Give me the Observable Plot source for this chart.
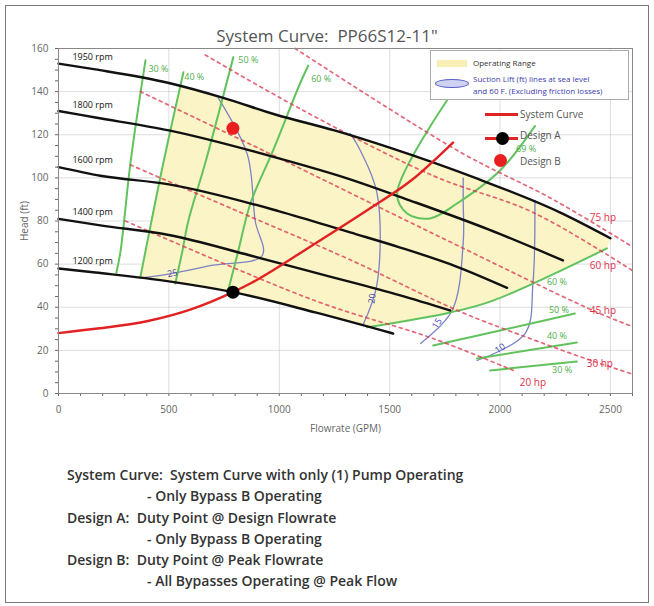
<!DOCTYPE html>
<html><head><meta charset="utf-8">
<script src="https://cdn.jsdelivr.net/npm/d3@7"></script>
<script src="https://cdn.jsdelivr.net/npm/@observablehq/plot@0.6"></script>
<style>
body{margin:0;background:#fff;font-family:"Open Sans",sans-serif;}
#wrap{position:relative;width:654px;height:606px;overflow:hidden;}
#frame{position:absolute;left:5px;top:5px;width:642px;height:596px;border:1px solid #777;pointer-events:none;}
#chart{position:absolute;left:0;top:0;}
#title{position:absolute;left:0;width:654px;top:24px;text-align:center;font-size:17px;color:#555;white-space:pre;}
.lg{position:absolute;font-size:8px;white-space:nowrap;line-height:10px;}
#lbox{position:absolute;left:430px;top:50px;width:197px;height:48px;border:1px solid #aaa;background:#fff;}
.li{position:absolute;font-size:10px;color:#555;white-space:nowrap;line-height:11px;}
#caption{position:absolute;left:67px;top:464px;font-size:14px;font-weight:600;color:#333;line-height:21.3px;}
#caption div{white-space:pre;}
</style></head><body>
<div id="wrap">
<div id="chart"></div>
<div id="title"></div>
<div id="lbox"></div>
<div style="position:absolute;left:437px;top:60px;width:30px;height:7px;background:#f8efb4;"></div>
<div class="lg" style="left:473px;top:58px;color:#333;">Operating Range</div>
<div style="position:absolute;left:435px;top:79px;width:32px;height:7px;border:1px solid #5560c0;border-radius:50%;background:#cfd2f3;"></div>
<div class="lg" style="left:473px;top:74px;color:#3b3bb0;">Suction Lift (ft) lines at sea level</div>
<div class="lg" style="left:473px;top:86px;color:#3b3bb0;">and 60 F. (Excluding friction losses)</div>
<div style="position:absolute;left:485px;top:113px;width:33px;height:3px;background:#e02424;"></div>
<div class="li" style="left:520px;top:109px;">System Curve</div>
<div style="position:absolute;left:485px;top:137px;width:33px;height:3px;background:#e02424;"></div>
<div style="position:absolute;left:496px;top:132px;width:13px;height:13px;border-radius:50%;background:#000;"></div>
<div class="li" style="left:520px;top:130px;">Design A</div>
<div style="position:absolute;left:494px;top:154px;width:13px;height:13px;border-radius:50%;background:#e82020;"></div>
<div class="li" style="left:520px;top:156px;">Design B</div>
<div id="caption"></div>
<div id="frame"></div>
</div>
<script>
// ---- text ----
const titleText = "System Curve:  PP66S12-11\"";
const captionLines = [
  ["System Curve:  System Curve with only (1) Pump Operating", 0],
  ["- Only Bypass B Operating", 1],
  ["Design A:  Duty Point @ Design Flowrate", 0],
  ["- Only Bypass B Operating", 1],
  ["Design B:  Duty Point @ Peak Flowrate", 0],
  ["- All Bypasses Operating @ Peak Flow", 1]
];
// ---- ticks ----
const xTicks = [0, 500, 1000, 1500, 2000, 2500];
const yTicks = [0, 20, 40, 60, 80, 100, 120, 140, 160];

// ---- pump curves [GPM, ft] ----
const rpm1950 = [[0,153],[167,150.3],[500,144],[750,137],[982,129.4],[1250,122],[1500,114],[1900,99.5],[2271,84],[2500,72]];
const rpm1800 = [[0,131],[167,128],[500,122],[982,109.5],[1300,100],[1593,89.5],[1950,76],[2285,61.7]];
const rpm1600 = [[0,105],[190,101],[500,97],[1000,84.5],[1321,74.7],[1548,67.7],[1800,59],[2032,49]];
const rpm1400 = [[0,81],[190,78],[500,73.5],[869,64],[1200,55],[1548,45.5],[1774,38.5]];
const rpm1200 = [[0,58],[167,56.1],[500,52],[790,47],[1163,37.6],[1516,27.8]];
const rpmLabels = [["1950 rpm",63,152.5],["1800 rpm",63,130],["1600 rpm",63,104.3],["1400 rpm",63,80.5],["1200 rpm",63,57.7]];

// ---- system curve & design points ----
const systemCurve = [[0,28],[167,30],[400,33.5],[600,39],[790,47],[869,51],[1163,69.6],[1398,85],[1600,99],[1787,116.4]];
const designA = [[790,47]];
const designB = [[790,123]];

// ---- horsepower lines ----
const hp75 = [[1072,160],[1819,112],[2240,90],[2600,68]];
const hp60 = [[665,157],[1095,132],[1697,101],[2149,84],[2600,57]];
const hp45 = [[371,140],[982,110],[1700,74],[2421,38.5],[2600,31]];
const hp30 = [[326,106],[869,82],[1321,62],[1819,38],[2149,25],[2421,15],[2600,9]];
const hp20 = [[303,80],[1163,43],[1697,25.5],[2060,10.7]];
const hpLabels = [["75 hp",2466,81.6],["60 hp",2466,59.4],["45 hp",2466,38.5],["30 hp",2452,13.9],["20 hp",2149,5.1]];

// ---- efficiency lines ----
const eff30 = [[394,154.5],[326,107],[281,66],[262,56]];
const eff40 = [[566,149],[475,107],[394,66],[371,54]];
const eff50 = [[792,156],[665,107],[588,80],[561,66],[529,51]];
const eff60 = [[1131,152],[1095,144],[973,113],[869,88],[814,66],[769,48]];
const eff69 = [[1760,136],[1534,92.8],[1579,83.5],[1683,81.2],[1805,88.1],[2000,103.4],[2158,124]];
const effR60 = [[1398,30.7],[1774,37.6],[1968,43.1],[2484,67.3]];
const effR50 = [[1697,22.3],[2000,29.2],[2339,37.1]];
const effR40 = [[1896,16.2],[2348,23.7]];
const effR30 = [[1955,10.7],[2348,14.8]];
const effLabels = [["30 %",453,150.3],["40 %",615,146.6],["50 %",860,154.5],["60 %",1190,145.6],["69 %",2118,113.2],
  ["60 %",2258,51.5],["50 %",2267,38.5],["40 %",2258,26.4],["30 %",2281,10.7]];

// ---- suction lift lines ----
const suc25 = [[724,137],[855,111],[891,80],[923,64],[700,59.5],[516,55.7],[394,53.8]];
const suc20 = [[1321,120.6],[1367,112.7],[1443,92.8],[1443,51],[1380,32]];
const suc15 = [[1833,100],[1833,89.5],[1833,69.6],[1783,38.5],[1640,23.2]];
const suc10 = [[2158,89.5],[2149,51],[2113,27.8],[1896,15.3]];
const sucLabels = [["25",516,55.7,-12],["20",1421,44,-82],["15",1715,32.5,-58],["10",2000,20.9,-35]];

// ---- operating range polygon ----
const operatingRange = [[371,54],[394,66],[475,107],[551,142.3],[750,137],[982,129.4],[1250,122],[1500,114],[1900,99.5],[2271,84],[2500,72],
  [2484,67.3],[1968,43.1],[1774,37.6],[1398,30.7],[1163,37.6],[790,47],[500,52],[371,54]];

// ---- build ----
const P = (arr, name) => arr.map(([q,h]) => ({q, h, name}));
const cat = (list) => list.flatMap(([a,n]) => P(a,n));
const pumps = cat([[rpm1950,"1950"],[rpm1800,"1800"],[rpm1600,"1600"],[rpm1400,"1400"],[rpm1200,"1200"]]);
const hps = cat([[hp75,"75"],[hp60,"60"],[hp45,"45"],[hp30,"30"],[hp20,"20"]]);
const effs = cat([[eff30,"30"],[eff40,"40"],[eff50,"50"],[eff60,"60"],[eff69,"69"],[effR60,"r60"],[effR50,"r50"],[effR40,"r40"],[effR30,"r30"]]);
const sucs = cat([[suc25,"25"],[suc20,"20"],[suc15,"15"],[suc10,"10"]]);
const lab = arr => arr.map(([t,q,h,r]) => ({t,q,h,r}));

const green = "#62c25e";
const plot = Plot.plot({
  width: 654, height: 445,
  marginTop: 48, marginBottom: 52, marginLeft: 58, marginRight: 22,
  style: {fontFamily: "Open Sans, sans-serif", fontSize: "10px", color: "#666", background: "transparent"},
  x: {domain: [0, 2600]},
  y: {domain: [0, 160]},
  marks: [
    Plot.gridX(xTicks, {stroke: "#bbb", strokeOpacity: 0.5}),
    Plot.gridY(yTicks, {stroke: "#bbb", strokeOpacity: 0.5}),
    Plot.line(P(operatingRange,"op"), {x: "q", y: "h", fill: "#fbf4c6", stroke: "none"}),
    Plot.line(sucs, {x: "q", y: "h", z: "name", stroke: "#7c82c4", strokeWidth: 1.3, curve: "catmull-rom"}),
    Plot.line(effs, {x: "q", y: "h", z: "name", stroke: green, strokeWidth: 2, curve: "catmull-rom"}),
    Plot.line(hps, {x: "q", y: "h", z: "name", stroke: "#d9364e", strokeOpacity: 0.75, strokeWidth: 1.7, strokeDasharray: "3,4", curve: "catmull-rom"}),
    Plot.line(pumps, {x: "q", y: "h", z: "name", stroke: "#111", strokeWidth: 2.4, curve: "monotone-x"}),
    Plot.line(P(systemCurve,"sys"), {x: "q", y: "h", stroke: "#e22222", strokeWidth: 2.4, curve: "monotone-x"}),
    Plot.dot(P(designA,"A"), {x: "q", y: "h", r: 6.5, fill: "#000"}),
    Plot.dot(P(designB,"B"), {x: "q", y: "h", r: 6.5, fill: "#ea2020"}),
    Plot.text(lab(rpmLabels), {x: "q", y: "h", text: "t", textAnchor: "start", dy: -8, fontSize: 9, fill: "#111"}),
    Plot.text(lab(hpLabels), {x: "q", y: "h", text: "t", fontSize: 10, fill: "#e0304c"}),
    Plot.text(lab(effLabels), {x: "q", y: "h", text: "t", fontSize: 9, fill: "#4fae4b"}),
    Plot.text(lab(sucLabels), {x: "q", y: "h", text: "t", rotate: "r", fontSize: 9, fill: "#4848b0"}),
    Plot.axisX(d3.range(0, 2601, 100), {tickSize: 3, tickFormat: d => xTicks.includes(d) ? String(d) : "", tickPadding: 9,
      label: "Flowrate (GPM)", labelAnchor: "center", labelOffset: 38, labelArrow: "none", fontSize: 10}),
    Plot.axisY(d3.range(0, 161, 5), {tickSize: 3, tickFormat: d => yTicks.includes(d) ? String(d) : "", tickPadding: 7,
      label: "Head (ft)", labelAnchor: "center", labelOffset: 38, labelArrow: "none", fontSize: 10}),
    Plot.frame({stroke: "#888"})
  ]
});
document.getElementById("chart").appendChild(plot);
document.getElementById("title").textContent = titleText;
const cap = document.getElementById("caption");
for (const [t, ind] of captionLines) {
  const d = document.createElement("div");
  d.textContent = t;
  if (ind) d.style.paddingLeft = "80px";
  cap.appendChild(d);
}
</script>
</body></html>
